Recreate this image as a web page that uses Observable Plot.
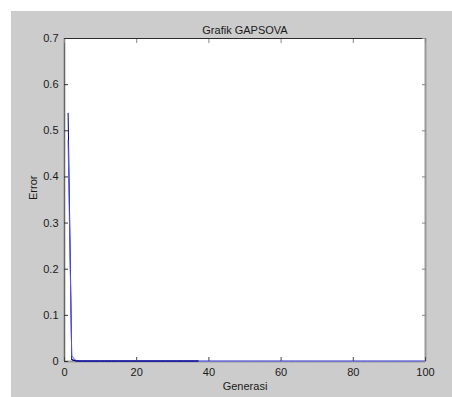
<!DOCTYPE html>
<html><head><meta charset="utf-8">
<script src="https://cdn.jsdelivr.net/npm/d3@7"></script>
<script src="https://cdn.jsdelivr.net/npm/@observablehq/plot@0.6"></script>
<style>
html,body{margin:0;padding:0;background:#fff;}
#wrap{position:relative;width:452px;height:397px;overflow:hidden;}
#bg{position:absolute;left:11px;top:11px;width:441px;height:386px;background:#cccccc;}
#chart{position:absolute;left:0;top:0;}
</style></head><body>
<div id="wrap"><div id="bg"></div><div id="chart"></div></div>
<script>
const title = "Grafik GAPSOVA";
const xLabel = "Generasi";
const yLabel = "Error";
const xDomain = [0, 100];
const yDomain = [0, 0.7];
const xTicks = [0, 20, 40, 60, 80, 100];
const yTicks = [0, 0.1, 0.2, 0.3, 0.4, 0.5, 0.6, 0.7];

// series 1 (dark navy), generations 1..37
const darkValues = [
  0.538, 0.004, 0.0015, 0.001, 0.001, 0.001, 0.001, 0.001, 0.001, 0.001,
  0.001, 0.001, 0.001, 0.001, 0.001, 0.001, 0.001, 0.001, 0.001, 0.001,
  0.001, 0.001, 0.001, 0.001, 0.001, 0.001, 0.001, 0.001, 0.001, 0.001,
  0.001, 0.001, 0.001, 0.001, 0.001, 0.001, 0.001
];
// series 2 (blue), generations 1..100
const blueValues = [
  0.48, 0.012, 0.003, 0.0015, 0.001, 0.001, 0.001, 0.001, 0.001, 0.001,
  0.001, 0.001, 0.001, 0.001, 0.001, 0.001, 0.001, 0.001, 0.001, 0.001,
  0.001, 0.001, 0.001, 0.001, 0.001, 0.001, 0.001, 0.001, 0.001, 0.001,
  0.001, 0.001, 0.001, 0.001, 0.001, 0.001, 0.001, 0.001, 0.001, 0.001,
  0.001, 0.001, 0.001, 0.001, 0.001, 0.001, 0.001, 0.001, 0.001, 0.001,
  0.001, 0.001, 0.001, 0.001, 0.001, 0.001, 0.001, 0.001, 0.001, 0.001,
  0.001, 0.001, 0.001, 0.001, 0.001, 0.001, 0.001, 0.001, 0.001, 0.001,
  0.001, 0.001, 0.001, 0.001, 0.001, 0.001, 0.001, 0.001, 0.001, 0.001,
  0.001, 0.001, 0.001, 0.001, 0.001, 0.001, 0.001, 0.001, 0.001, 0.001,
  0.001, 0.001, 0.001, 0.001, 0.001, 0.001, 0.001, 0.001, 0.001, 0.001
];

const darkSeries = darkValues.map((v, i) => ({gen: i + 1, err: v}));
const blueSeries = blueValues.map((v, i) => ({gen: i + 1, err: v}));

const yFmt = d => d === 0 ? "0" : d.toFixed(1);

const chart = Plot.plot({
  width: 452,
  height: 397,
  marginLeft: 64,
  marginRight: 27,
  marginTop: 38,
  marginBottom: 36,
  style: {background: "transparent", fontFamily: "'Liberation Sans', Arial, sans-serif", fontSize: "11px", color: "#1a1a1a"},
  x: {domain: xDomain, label: null, nice: false},
  y: {domain: yDomain, label: null, nice: false},
  marks: [
    Plot.frame({fill: "white", stroke: null}),
    Plot.ruleY([yDomain[1]], {stroke: "#2a2a2a", strokeWidth: 1.2}),
    Plot.ruleX([xDomain[0]], {stroke: "#666", strokeWidth: 1.5}),
    Plot.ruleX([xDomain[1]], {stroke: "#999", strokeWidth: 2}),
    Plot.ruleY([yDomain[0]], {stroke: "#999", strokeWidth: 2}),
    // dark series drawn under the blue one, then its flat tail redrawn on top
    Plot.line(darkSeries, {x: "gen", y: "err", stroke: "#00007f", strokeWidth: 1}),
    Plot.line(blueSeries, {x: "gen", y: "err", stroke: "#5252ff", strokeWidth: 1}),
    Plot.line(darkSeries.slice(1), {x: "gen", y: "err", stroke: "#00007f", strokeWidth: 1}),
    // inward tick marks
    Plot.axisX(xTicks, {anchor: "bottom", tickSize: 4, dy: -4, tickFormat: () => "", label: null, stroke: "#444"}),
    Plot.axisX(xTicks, {anchor: "top", tickSize: 4, dy: 4, tickFormat: () => "", label: null, stroke: "#888"}),
    Plot.axisY(yTicks, {anchor: "left", tickSize: 4, dx: 4, tickFormat: () => "", label: null, stroke: "#333"}),
    Plot.axisY(yTicks, {anchor: "right", tickSize: 4, dx: -4, tickFormat: () => "", label: null, stroke: "#888"}),
    // tick labels
    Plot.axisX(xTicks, {anchor: "bottom", tickSize: 0, tickPadding: 7, tickFormat: d => String(d), label: null}),
    Plot.axisY(yTicks, {anchor: "left", tickSize: 0, tickPadding: 6, tickFormat: yFmt, label: null}),
    // title and axis labels
    Plot.text([title], {frameAnchor: "top", dy: -12, fontSize: 11}),
    Plot.text([xLabel], {frameAnchor: "bottom", dy: 28, fontSize: 11}),
    Plot.text([yLabel], {frameAnchor: "left", dx: -31, rotate: -90, fontSize: 11})
  ]
});
document.getElementById("chart").appendChild(chart);
</script>
</body></html>
